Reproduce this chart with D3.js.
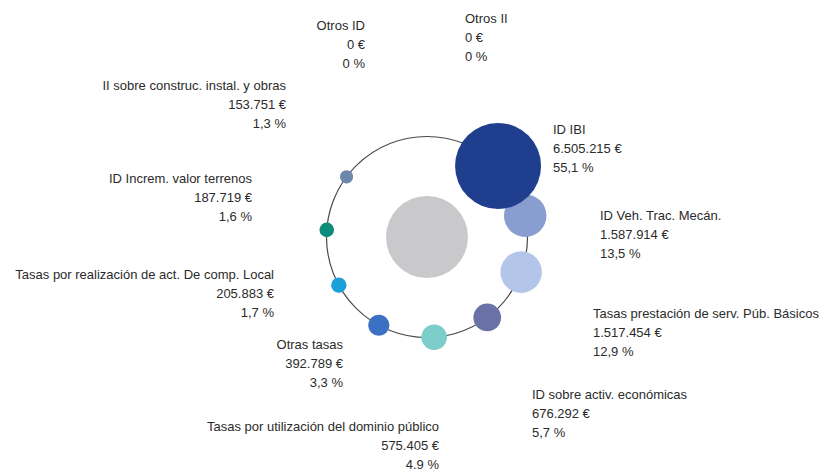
<!DOCTYPE html>
<html>
<head>
<meta charset="utf-8">
<script src="https://cdn.jsdelivr.net/npm/d3@7"></script>
<style>
  html, body { margin: 0; padding: 0; background: #fff; }
  svg { display: block; }
  text { font-family: "Liberation Sans", Arial, sans-serif; font-size: 13px; fill: #2b2b2b; }
</style>
</head>
<body>
<svg id="chart" width="825" height="470"></svg>
<script>
// Ingresos por concepto, ordenados en el sentido de las agujas del reloj
const categories = [
  "ID IBI",
  "ID Veh. Trac. Mecán.",
  "Tasas prestación de serv. Púb. Básicos",
  "ID sobre activ. económicas",
  "Tasas por utilización del dominio público",
  "Otras tasas",
  "Tasas por realización de act. De comp. Local",
  "ID Increm. valor terrenos",
  "II sobre construc. instal. y obras",
  "Otros ID",
  "Otros II"
];
const amounts = [6505215, 1587914, 1517454, 676292, 575405, 392789, 205883, 187719, 153751, 0, 0];
const percents = ["55,1 %", "13,5 %", "12,9 %", "5,7 %", "4.9 %", "3,3 %", "1,7 %", "1,6 %", "1,3 %", "0 %", "0 %"];

// Colores de cada burbuja
const colors = ["#1f3f8e", "#8a9dd1", "#b3c6ea", "#6a71a5", "#7dcdcb", "#3b70c2",
                "#1ca0d7", "#0f8b7c", "#6e88ab", "#999", "#999"];

// Posición de cada etiqueta (centro de la primera línea) y alineación
const labelLayout = [
  { x: 553, y: 129, anchor: "start" },
  { x: 600, y: 215, anchor: "start" },
  { x: 593, y: 313, anchor: "start" },
  { x: 532, y: 394, anchor: "start" },
  { x: 439, y: 426, anchor: "end" },
  { x: 343, y: 344, anchor: "end" },
  { x: 274, y: 274, anchor: "end" },
  { x: 252, y: 178, anchor: "end" },
  { x: 286, y: 85, anchor: "end" },
  { x: 365, y: 25, anchor: "end" },
  { x: 465, y: 18, anchor: "start" }
];

const euro = d3.formatLocale({ decimal: ",", thousands: ".", grouping: [3], currency: ["", " €"] }).format(",d");

const svg = d3.select("#chart");
const cx = 427, cy = 237, ringR = 100.5;

// Ángulo de cada concepto alrededor del anillo
const angle = d3.scaleLinear()
  .domain([0, categories.length])
  .range([-Math.PI / 4, -Math.PI / 4 + 2 * Math.PI]);

// Radio proporcional al área
const radius = d3.scaleSqrt()
  .domain([0, d3.max(amounts)])
  .range([0, 43]);

const data = categories.map((name, i) => ({
  name, value: amounts[i], pct: percents[i], color: colors[i],
  a: angle(i), label: labelLayout[i]
}));

// Anillo
svg.append("circle")
  .attr("cx", cx).attr("cy", cy).attr("r", ringR)
  .attr("fill", "none").attr("stroke", "#4a4a4a").attr("stroke-width", 1.2);

// Círculo central
svg.append("circle")
  .attr("cx", cx).attr("cy", cy).attr("r", 41)
  .attr("fill", "#c9c9cc");

// Burbujas (orden inverso: cada una queda sobre la siguiente)
svg.append("g").selectAll("circle")
  .data(data.filter(d => d.value > 0).reverse())
  .join("circle")
  .attr("cx", d => cx + ringR * Math.cos(d.a))
  .attr("cy", d => cy + ringR * Math.sin(d.a))
  .attr("r", d => radius(d.value))
  .attr("fill", d => d.color);

// Etiquetas: nombre, importe y porcentaje
const labels = svg.append("g").selectAll("text")
  .data(data)
  .join("text")
  .attr("text-anchor", d => d.label.anchor)
  .attr("x", d => d.label.x)
  .attr("y", d => d.label.y + 4.5);

labels.append("tspan").attr("x", d => d.label.x).text(d => d.name);
labels.append("tspan").attr("x", d => d.label.x).attr("dy", 19).text(d => euro(d.value) + " €");
labels.append("tspan").attr("x", d => d.label.x).attr("dy", 19).text(d => d.pct);
</script>
</body>
</html>
